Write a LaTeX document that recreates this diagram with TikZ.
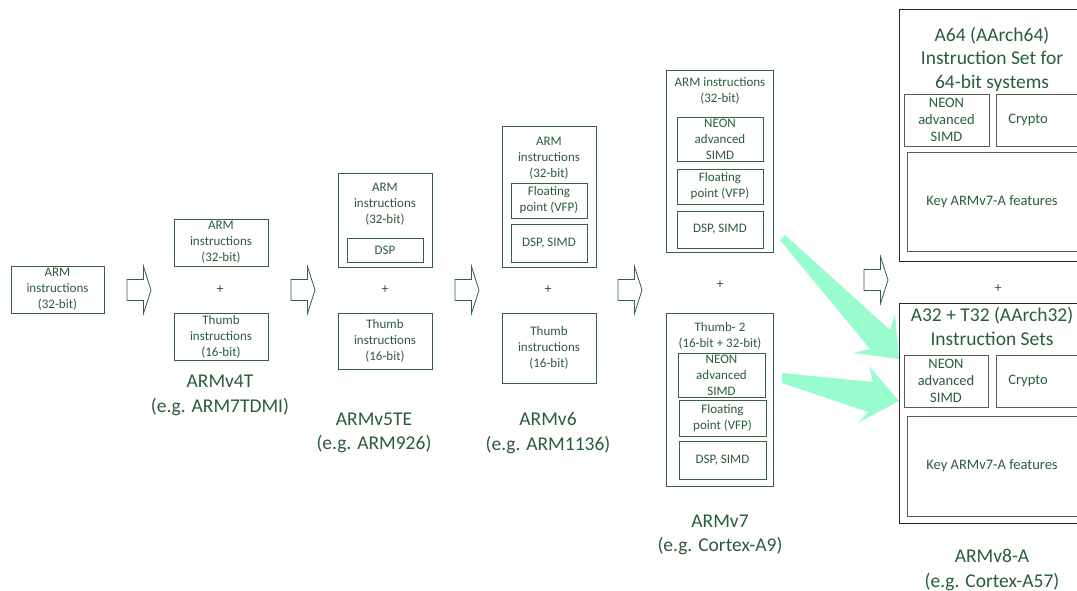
\documentclass[tikz,border=0pt]{standalone}
\usepackage{fontspec}
\setmainfont{Carlito}
\definecolor{tgreen}{RGB}{42,92,60}
\definecolor{boxgreen}{RGB}{50,98,66}
\definecolor{mintc}{RGB}{152,252,206}
\begin{document}
\begin{tikzpicture}[x=1pt,y=-1pt,
  gbox/.style={draw=boxgreen, line width=0.8pt, inner sep=0pt, text=tgreen, align=center, font=\fontsize{13}{16}\selectfont},
  kbox/.style={draw=black!85, line width=0.9pt, inner sep=0pt},
  ibox/.style={draw=black!65, line width=0.8pt, inner sep=0pt, text=tgreen, align=center, font=\fontsize{14.5}{17}\selectfont},
  sm/.style={text=tgreen, font=\fontsize{13}{16}\selectfont, align=center, inner sep=0pt},
  md/.style={text=tgreen, font=\fontsize{14.5}{17}\selectfont, align=center, inner sep=0pt},
  lg/.style={text=tgreen, font=\fontsize{19.5}{24.5}\selectfont, align=center, inner sep=0pt},
  hd/.style={text=tgreen, font=\fontsize{19.5}{23.5}\selectfont, align=center, inner sep=0pt},
  plus/.style={text=tgreen, font=\fontsize{14}{16}\selectfont, inner sep=0pt},
  mint/.style={fill=mintc, draw=none},
  harrow/.pic={\draw[draw=boxgreen, line width=0.8pt, fill=white, line join=miter]
     (0,-10.5) -- (16.5,-10.5) -- (16.5,-23.5) -- (24,0) -- (16.5,23.5) -- (16.5,10.5) -- (0,10.5) -- cycle;},
]
\useasboundingbox (0,0) rectangle (1077,591);
\clip (0,0) rectangle (1077,591);

% mint arrows
\fill[mint] (785,235) -- (890,330) -- (895,314) -- (899,359) -- (853,353) -- (870,349) -- (780,240) -- cycle;
\fill[mint] (782,373) -- (873,382) -- (869,366) -- (899,401) -- (858,423) -- (868,412) -- (782,383) -- cycle;

% hollow arrows
\pic at (127,290) {harrow};
\pic at (291,290) {harrow};
\pic at (455,290) {harrow};
\pic at (618,290) {harrow};
\pic at (864,280) {harrow};

% column 1
\node[gbox, minimum width=93, minimum height=47] (a1) at (57.5,289.5) {ARM\\instructions\\(32-bit)};

% ARMv4T
\node[gbox, minimum width=94, minimum height=47] (b1) at (221,242.5) {ARM\\instructions\\(32-bit)};
\node[plus] (bp) at (220,290) {+};
\node[gbox, minimum width=94, minimum height=47] (b2) at (221,336.5) {Thumb\\instructions\\(16-bit)};
\node[lg] (bl) at (220,395.5) {ARMv4T\\(e.g. ARM7TDMI)};

% ARMv5TE
\node[gbox, minimum width=94, minimum height=94] (c1) at (385,220) {};
\node[sm] (c1t) at (385,204) {ARM\\instructions\\(32-bit)};
\node[gbox, minimum width=76, minimum height=24] (c1d) at (385,250) {DSP};
\node[plus] (cp) at (385,290) {+};
\node[gbox, minimum width=94, minimum height=56] (c2) at (385,341) {Thumb\\instructions\\(16-bit)};
\node[lg] (cl) at (374,433) {ARMv5TE\\(e.g. ARM926)};

% ARMv6
\node[gbox, minimum width=94, minimum height=141] (d1) at (549,196.5) {};
\node[sm] (d1t) at (549,158) {ARM\\instructions\\(32-bit)};
\node[gbox, minimum width=76, minimum height=35] (d1f) at (549,200.5) {Floating\\point (VFP)};
\node[gbox, minimum width=76, minimum height=38] (d1d) at (549,243) {DSP, SIMD};
\node[plus] (dp) at (548,290) {+};
\node[gbox, minimum width=94, minimum height=70] (d2) at (549,348) {Thumb\\instructions\\(16-bit)};
\node[lg] (dl) at (548,433) {ARMv6\\(e.g. ARM1136)};

% ARMv7
\node[gbox, minimum width=107, minimum height=182] (e1) at (719.5,161) {};
\node[sm] (e1t) at (720,90.5) {ARM instructions\\(32-bit)};
\node[gbox, minimum width=86, minimum height=44] (e1n) at (720,139) {NEON\\advanced\\SIMD};
\node[gbox, minimum width=86, minimum height=35] (e1f) at (720,186.5) {Floating\\point (VFP)};
\node[gbox, minimum width=86, minimum height=37] (e1d) at (720,229.5) {DSP, SIMD};
\node[plus] (ep) at (720,285) {+};
\node[gbox, minimum width=107, minimum height=173] (e2) at (719.5,399.5) {};
\node[sm] (e2t) at (720,335.5) {Thumb- 2\\(16-bit + 32-bit)};
\node[gbox, minimum width=87, minimum height=44] (e2n) at (721.5,375) {NEON\\advanced\\SIMD};
\node[gbox, minimum width=87, minimum height=36] (e2f) at (722.5,418) {Floating\\point (VFP)};
\node[gbox, minimum width=87, minimum height=38] (e2d) at (722.5,460) {DSP, SIMD};
\node[lg] (el) at (720,535) {ARMv7\\(e.g. Cortex-A9)};

% ARMv8-A
\node[kbox, minimum width=186, minimum height=252] (f1) at (992,135) {};
\node[hd] (f1t) at (992,59) {A64 (AArch64)\\Instruction Set for\\64-bit systems};
\node[ibox, minimum width=85, minimum height=52] (f1n) at (946.5,120) {NEON\\advanced\\SIMD};
\node[ibox, minimum width=84, minimum height=52] (f1c) at (1038,120) {};
\node[md] (f1ct) at (1028,120) {Crypto};
\node[ibox, minimum width=173, minimum height=99] (f1k) at (993.5,201.5) {};
\node[md] (f1kt) at (992,202) {Key ARMv7-A features};
\node[plus] (fp) at (998,289) {+};
\node[kbox, minimum width=186, minimum height=220] (f2) at (992,413) {};
\node[hd] (f2t) at (992,326.5) {A32 + T32 (AArch32)\\Instruction Sets};
\node[ibox, minimum width=84, minimum height=52] (f2n) at (946,381) {NEON\\advanced\\SIMD};
\node[ibox, minimum width=84, minimum height=52] (f2c) at (1038,381) {};
\node[md] (f2ct) at (1028,381) {Crypto};
\node[ibox, minimum width=173, minimum height=100] (f2k) at (993.5,466) {};
\node[md] (f2kt) at (992,466) {Key ARMv7-A features};
\node[lg] (fl) at (992,570) {ARMv8-A\\(e.g. Cortex-A57)};
\end{tikzpicture}
\end{document}
